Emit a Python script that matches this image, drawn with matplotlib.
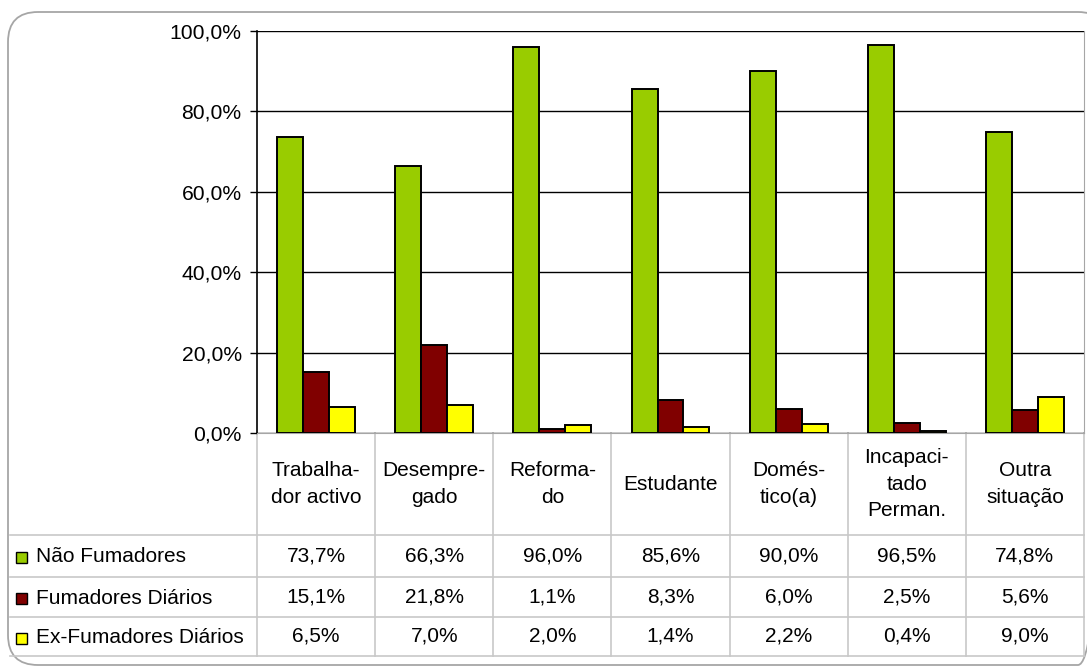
import matplotlib.pyplot as plt
import numpy as np
from matplotlib.patches import FancyBboxPatch, Rectangle
from matplotlib.ticker import FuncFormatter, MultipleLocator

plt.rcParams['font.family'] = ['Liberation Sans', 'DejaVu Sans']

# dados
categorias = ["Trabalha-\ndor activo", "Desempre-\ngado", "Reforma-\ndo", "Estudante",
              "Domés-\ntico(a)", "Incapaci-\ntado\nPerman.", "Outra\nsituação"]
series = ["Não Fumadores", "Fumadores Diários", "Ex-Fumadores Diários"]
nao_fumadores = [73.7, 66.3, 96.0, 85.6, 90.0, 96.5, 74.8]
fumadores_diarios = [15.1, 21.8, 1.1, 8.3, 6.0, 2.5, 5.6]
ex_fumadores = [6.5, 7.0, 2.0, 1.4, 2.2, 0.4, 9.0]
cores = ["#99CC00", "#800000", "#FFFF00"]

valores = [nao_fumadores, fumadores_diarios, ex_fumadores]

def pct(v):
    return f"{v:.1f}%".replace('.', ',')

W, H = 1087, 670
fig = plt.figure(figsize=(W / 100, H / 100), dpi=100)

# camada de fundo em pixels (moldura e tabela)
bg = fig.add_axes([0, 0, 1, 1])
bg.set_xlim(0, W)
bg.set_ylim(H, 0)
bg.axis('off')

moldura = FancyBboxPatch((8, 12), 1100, 653, boxstyle="round,pad=0,rounding_size=30",
                         fc='none', ec='#a6a6a6', lw=1.3)
bg.add_patch(moldura)

# eixo principal
x0, x1, ytop, ybot = 257, 1084, 31, 433
ax = fig.add_axes([x0 / W, (H - ybot) / H, (x1 - x0) / W, (ybot - ytop) / H])
n = len(categorias)
x = np.arange(n)
larg = 0.22
for i, (vals, cor) in enumerate(zip(valores, cores)):
    ax.bar(x + (i - 1) * larg, vals, larg, color=cor, edgecolor='black', lw=1.4, zorder=3)

ax.set_xlim(-0.5, n - 0.5)
ax.set_ylim(0, 100)
ax.yaxis.set_major_locator(MultipleLocator(20))
ax.yaxis.set_major_formatter(FuncFormatter(lambda v, p: pct(v)))
ax.grid(axis='y', color='black', lw=1.0, zorder=0)
ax.set_xticks([])
ax.tick_params(axis='y', labelsize=15.2, length=5, width=1.0, pad=6, color='black')
ax.spines['left'].set_color('black')
ax.spines['left'].set_linewidth(1.2)
ax.spines['top'].set_visible(False)
ax.spines['right'].set_color('#a6a6a6')
ax.spines['bottom'].set_color('#a6a6a6')
ax.set_facecolor('none')

# tabela de dados
col_w = (x1 - x0) / n
linhas_y = [433, 535, 577, 617, 656]
cinza = '#c8c8c8'
for yy in linhas_y[1:]:
    bg.plot([10, x1], [yy, yy], color=cinza, lw=1.2)
for j in range(n + 1):
    xx = x0 + j * col_w
    bg.plot([xx, xx], [433, 656], color=cinza, lw=1.2)

fs = 15
for j, cat in enumerate(categorias):
    bg.text(x0 + (j + 0.5) * col_w, (linhas_y[0] + linhas_y[1]) / 2, cat, ha='center',
            va='center', fontsize=fs, linespacing=1.5)

for i, (nome, vals, cor) in enumerate(zip(series, valores, cores)):
    yc = (linhas_y[i + 1] + linhas_y[i + 2]) / 2
    bg.add_patch(Rectangle((16, yc - 4), 11, 11, fc=cor, ec='black', lw=1.0))
    bg.text(36, yc + 1, nome, ha='left', va='center', fontsize=fs)
    for j, v in enumerate(vals):
        bg.text(x0 + (j + 0.5) * col_w, yc, pct(v), ha='center', va='center', fontsize=fs)

fig.savefig("out.png", dpi=100)
